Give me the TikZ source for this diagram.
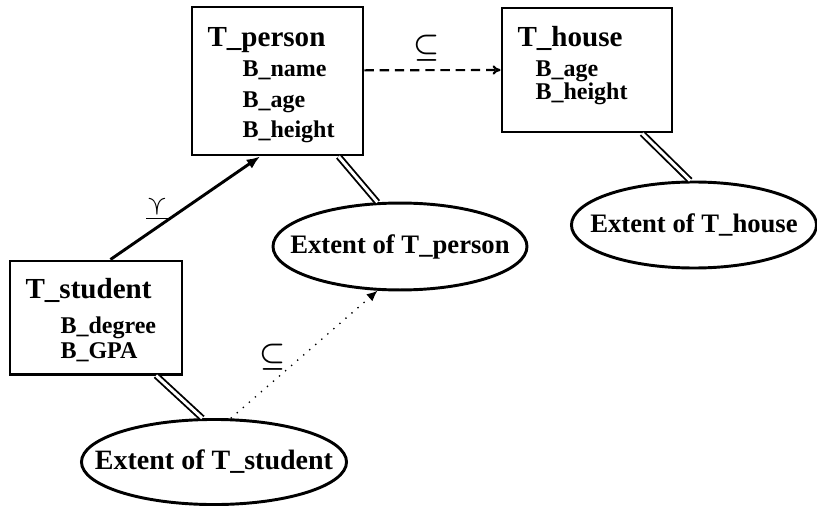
\documentclass[tikz,border=0pt]{standalone}
\usepackage{fontspec}
\setmainfont{Liberation Serif}
\usepackage{amssymb}
\usepackage{bm}
\usetikzlibrary{arrows}
\usetikzlibrary{arrows.meta}
\usetikzlibrary{shapes.geometric}

\begin{document}
\begin{tikzpicture}[x=0.375pt,y=-0.375pt,
  typebox/.style={draw, line width=1.1pt, inner sep=0pt},
  extent/.style={draw, ellipse, line width=1.1pt, inner xsep=-10pt, inner ysep=0pt},
  tname/.style={anchor=base west, inner sep=0pt, font=\fontsize{10.9}{13}\selectfont\bfseries},
  bname/.style={anchor=base west, inner sep=0pt, font=\fontsize{9}{11}\selectfont\bfseries},
  extlink/.style={double, line width=0.7pt, double distance=1.1pt},
  rel/.style={inner sep=0pt, font=\fontsize{10.5}{12}\selectfont}]
\useasboundingbox (0,0) rectangle (817,506);

% type boxes
\node[typebox, minimum width=64.13pt, minimum height=55.5pt] (person) at (277.5,81) {};
\node[tname] (personT) at (207,47) {T\_person};
\node[bname] (personA) at (242,77) {B\_name};
\node[bname] (personB) at (242,108) {B\_age};
\node[bname] (personC) at (242,138) {B\_height};

\node[typebox, minimum width=63.75pt, minimum height=46.5pt] (house) at (587,70) {};
\node[tname] (houseT) at (517,47) {T\_house};
\node[bname] (houseA) at (535,77) {B\_age};
\node[bname] (houseB) at (535,100) {B\_height};

\node[typebox, minimum width=64.5pt, minimum height=42.4pt] (student) at (96,317.5) {};
\node[tname] (studentT) at (25,298) {T\_student};
\node[bname] (studentA) at (60,333) {B\_degree};
\node[bname] (studentB) at (60,358) {B\_GPA};

% extents
\node[extent, minimum width=95.25pt, minimum height=32.6pt, font=\fontsize{10}{12}\selectfont\bfseries] (personE) at (400,246.5) {Extent of T\_person};
\node[extent, minimum width=91.9pt, minimum height=32.25pt, font=\fontsize{10}{12}\selectfont\bfseries] (houseE) at (694,225) {Extent of T\_house};
\node[extent, minimum width=99.4pt, minimum height=31.9pt, font=\fontsize{10.5}{12}\selectfont\bfseries] (studentE) at (214,462) {Extent of T\_student};

% links to extents
\draw[extlink] (person.-51) -- (personE.117);
\draw[extlink] (house.-49) -- (houseE.95);
\draw[extlink] (student.-44) -- (studentE.105);

% subtype
\draw[-{Latex[length=5pt,width=4pt]}, line width=1.1pt] (student.76) -- (person.257);
\node[rel] (spec) at (157,210) {$\bm{\underline{\curlyvee}}$};

% inclusions
\draw[-{To[length=3pt,width=3.5pt]}, line width=0.8pt, dash pattern=on 3.5pt off 2.2pt] (person.7) -- (house.west);
\node[rel] (subA) at (427,48) {$\bm{\subseteq}$};

\draw[-{Latex[length=4pt,width=3.5pt]}, line width=0.5pt, dash pattern=on 0.5pt off 2.5pt] (studentE.69) -- (personE.-117);
\node[rel] (subB) at (273,357) {$\bm{\subseteq}$};
\end{tikzpicture}
\end{document}
